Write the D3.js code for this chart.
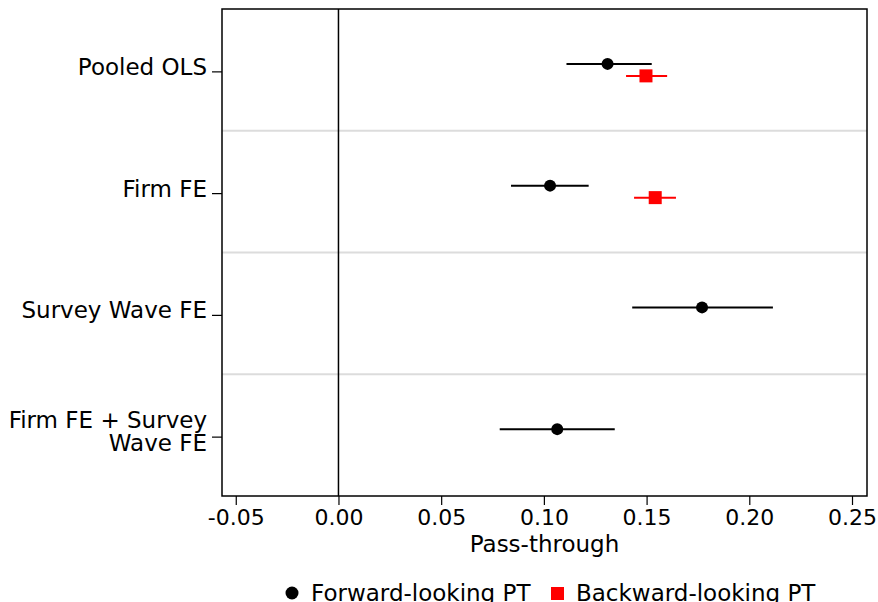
<!DOCTYPE html>
<meta charset="utf-8">
<style>
body{margin:0;background:#fff;}
text{font-family:'DejaVu Sans',sans-serif;fill:#000;}
</style>
<script src="https://d3js.org/d3.v7.min.js"></script>
<svg width="878" height="602"></svg>
<script>
// models (top to bottom)
var models = ["Pooled OLS", "Firm FE", "Survey Wave FE", "Firm FE + Survey|Wave FE"];
// forward-looking pass-through: estimate, low, high
var fwdEst = [0.131, 0.103, 0.177, 0.1065];
var fwdLo  = [0.111, 0.084, 0.143, 0.0785];
var fwdHi  = [0.1525, 0.1218, 0.2115, 0.1345];
// backward-looking (only first two models)
var bwdEst = [0.1497, 0.1542];
var bwdLo  = [0.140, 0.1439];
var bwdHi  = [0.160, 0.1643];
var xTicks = [-0.05, 0, 0.05, 0.10, 0.15, 0.20, 0.25];

var svg = d3.select("svg");
var L = 222, R = 867, T = 9, B = 496;

var x = d3.scaleLinear().domain([-0.0567, 0.2573]).range([L, R]);
var y = d3.scaleBand().domain(d3.range(models.length)).range([T, B]);

// group separators
svg.selectAll(".sep").data(d3.range(1, models.length)).enter().append("line")
  .attr("x1", L).attr("x2", R)
  .attr("y1", function(i){ return y(i); }).attr("y2", function(i){ return y(i); })
  .attr("stroke", "#dcdcdc").attr("stroke-width", 2);

// zero line
svg.append("line").attr("x1", x(0)).attr("x2", x(0)).attr("y1", T).attr("y2", B)
  .attr("stroke", "#000").attr("stroke-width", 1.5);

// x axis
var xa = svg.append("g").attr("transform", "translate(0," + B + ")")
  .call(d3.axisBottom(x).tickValues(xTicks).tickSize(9).tickPadding(4));
xa.select(".domain").remove();
xa.selectAll("line").attr("stroke", "#000").attr("stroke-width", 1.2);
xa.selectAll("text").style("font-size", "22px").style("font-family", "'DejaVu Sans',sans-serif")
  .text(function(d){ return d3.format(".2f")(d).replace("−", "-"); });

// y axis
var ya = svg.append("g").attr("transform", "translate(" + L + ",2)")
  .call(d3.axisLeft(y).tickSize(10).tickFormat(""));
ya.select(".domain").remove();
ya.selectAll("line").attr("stroke", "#000").attr("stroke-width", 1.2);
models.forEach(function(m, i){
  var lines = m.split("|");
  var base = y(i) + y.bandwidth()/2 + 5;
  var t = svg.append("text").attr("text-anchor", "end").style("font-size", "23px");
  lines.forEach(function(s, k){
    t.append("tspan").attr("x", L - 15)
      .attr("y", base - 12 * (lines.length - 1) + k * 23).text(s);
  });
});

// frame
svg.append("rect").attr("x", L).attr("y", T).attr("width", R - L).attr("height", B - T)
  .attr("fill", "none").attr("stroke", "#000").attr("stroke-width", 1.5);

// forward-looking
var off = 6;
fwdEst.forEach(function(v, i){
  var cy = y(i) + y.bandwidth()/2 - off;
  svg.append("line").attr("x1", x(fwdLo[i])).attr("x2", x(fwdHi[i]))
    .attr("y1", cy).attr("y2", cy).attr("stroke", "#000").attr("stroke-width", 2);
  svg.append("circle").attr("cx", x(v)).attr("cy", cy).attr("r", 6).attr("fill", "#000");
});
// backward-looking
bwdEst.forEach(function(v, i){
  var cy = y(i) + y.bandwidth()/2 + off;
  svg.append("line").attr("x1", x(bwdLo[i])).attr("x2", x(bwdHi[i]))
    .attr("y1", cy).attr("y2", cy).attr("stroke", "#ff0000").attr("stroke-width", 2);
  svg.append("rect").attr("x", x(v) - 6.5).attr("y", cy - 6.5).attr("width", 13).attr("height", 13)
    .attr("fill", "#ff0000");
});

// axis title
svg.append("text").attr("x", (L + R)/2).attr("y", 552).attr("text-anchor", "middle")
  .style("font-size", "23px").text("Pass-through");

// legend
var lg = svg.append("g");
lg.append("circle").attr("cx", 292).attr("cy", 593).attr("r", 6.5).attr("fill", "#000");
lg.append("text").attr("x", 311).attr("y", 601).style("font-size", "23px").text("Forward-looking PT");
lg.append("rect").attr("x", 551).attr("y", 587).attr("width", 13).attr("height", 13).attr("fill", "#ff0000");
lg.append("text").attr("x", 576).attr("y", 601).style("font-size", "23px").text("Backward-looking PT");
</script>
